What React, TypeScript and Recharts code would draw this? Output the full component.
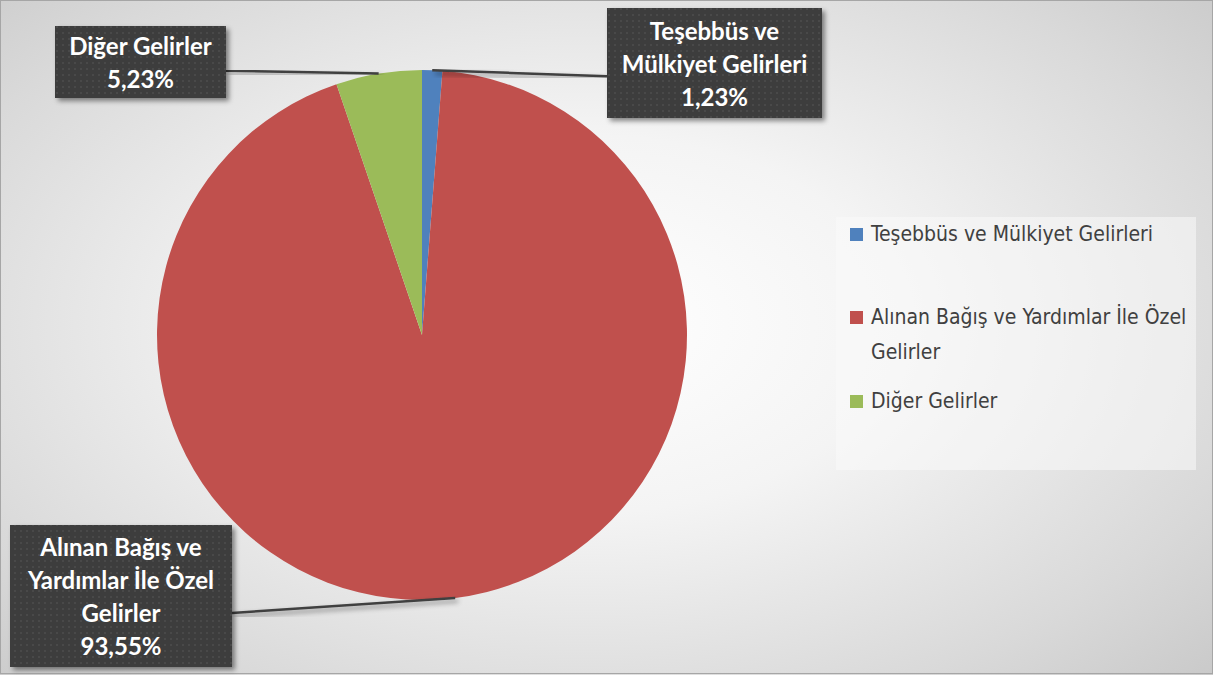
import { PieChart, Pie, Cell, Legend } from 'recharts';

const categories = ['Teşebbüs ve Mülkiyet Gelirleri', 'Alınan Bağış ve Yardımlar İle Özel Gelirler', 'Diğer Gelirler'];
const shares = [1.23, 93.55, 5.23];
const colors = ['#4f81bd', '#c0504d', '#9bbb59'];

// callout box layout (Excel data callouts)
const callouts = [
  { x: 607, y: 8, w: 215, h: 110, lines: ['Teşebbüs ve', 'Mülkiyet Gelirleri'], side: 'left' },
  { x: 10, y: 525, w: 222, h: 142, lines: ['Alınan Bağış ve', 'Yardımlar İle Özel', 'Gelirler'], side: 'right' },
  { x: 55, y: 26, w: 171, h: 72, lines: ['Diğer Gelirler'], side: 'right' },
];

const data = categories.map((name, i) => ({ name, value: shares[i] }));

const RADIAN = Math.PI / 180;
const fmt = (v: number) => v.toFixed(2).replace('.', ',') + '%';

function Callout(props: any) {
  const { cx, cy, midAngle, outerRadius, index, value } = props;
  const c = callouts[index];
  const ax = cx + outerRadius * Math.cos(-midAngle * RADIAN);
  const ay = cy + outerRadius * Math.sin(-midAngle * RADIAN);
  const lines = [...c.lines, fmt(value)];
  const bx = c.side === 'left' ? c.x : c.x + c.w;
  const by = c.y + c.h * 0.62;
  const lh = 33;
  const startY = c.y + c.h / 2 - ((lines.length - 1) * lh) / 2;
  return (
    <g>
      <line x1={ax} y1={ay} x2={bx} y2={by} stroke="#404040" strokeWidth={2.5} filter="url(#shadow)" />
      <rect x={c.x} y={c.y} width={c.w} height={c.h} fill="url(#dots)" filter="url(#shadow)" />
      {lines.map((t, k) => (
        <text
          key={k}
          x={c.x + c.w / 2}
          y={startY + k * lh}
          textAnchor="middle"
          dominantBaseline="central"
          fill="#ffffff"
          fontFamily="Lato, sans-serif"
          fontWeight="bold"
          fontSize={24}
        >
          {t}
        </text>
      ))}
    </g>
  );
}

const legendGaps = [8, 48, 14];

function LegendBox(props: any) {
  const items = [...(props.payload || [])].sort(
    (a: any, b: any) => categories.indexOf(a.value) - categories.indexOf(b.value)
  );
  return (
    <div
      style={{
        width: 360,
        height: 253,
        background: 'rgba(250,250,250,0.55)',
        boxSizing: 'border-box',
        padding: '0 2px 0 14px',
        fontFamily: '"DejaVu Sans Condensed", "DejaVu Sans", sans-serif',
        fontStretch: 'condensed',
        fontSize: 21,
        lineHeight: '35px',
        color: '#404040',
      }}
    >
      {items.map((p: any, i: number) => (
        <div key={i} style={{ display: 'flex', alignItems: 'flex-start', marginTop: legendGaps[i] }}>
          <span
            style={{
              display: 'inline-block',
              width: 13,
              height: 13,
              background: p.color,
              marginTop: 11,
              marginRight: 8,
              flexShrink: 0,
            }}
          />
          <span>{p.value}</span>
        </div>
      ))}
    </div>
  );
}

export default function App() {
  return (
    <div
      style={{
        position: 'relative',
        width: 1213,
        height: 675,
        background: 'radial-gradient(ellipse 75% 80% at 48% 48%, #ffffff 0%, #f4f4f4 35%, #d9d9d9 75%, #c6c6c6 100%)',
        overflow: 'hidden',
      }}
    >
      <style>{'body{margin:0}'}</style>
      <div
        style={{
          position: 'absolute',
          left: 0,
          top: 0,
          width: 1211,
          height: 672,
          border: '1px solid #a6a6a6',
          pointerEvents: 'none',
        }}
      />
      <PieChart
        width={1213}
        height={675}
        margin={{ top: 0, right: 0, bottom: 0, left: 0 }}
        style={{ position: 'absolute', left: 0, top: 0 }}
      >
        <defs>
          <pattern id="dots" width={6} height={6} patternUnits="userSpaceOnUse">
            <rect width={6} height={6} fill="#3d3d3d" />
            <rect x={2} y={2} width={2} height={2} fill="#4a4a4a" />
          </pattern>
          <filter id="shadow" x="-10%" y="-10%" width="130%" height="130%">
            <feDropShadow dx={3} dy={3} stdDeviation={2.5} floodColor="#000" floodOpacity={0.45} />
          </filter>
        </defs>
        <Pie
          data={data}
          dataKey="value"
          nameKey="name"
          cx={422}
          cy={335}
          outerRadius={265}
          startAngle={90}
          endAngle={-270}
          stroke="none"
          label={Callout}
          labelLine={false}
          isAnimationActive={false}
        >
          {data.map((_, i) => (
            <Cell key={i} fill={colors[i]} />
          ))}
        </Pie>
        <Legend
          layout="vertical"
          content={LegendBox}
          wrapperStyle={{ position: 'absolute', left: 836, top: 209, width: 360, height: 253 }}
        />
      </PieChart>
    </div>
  );
}
